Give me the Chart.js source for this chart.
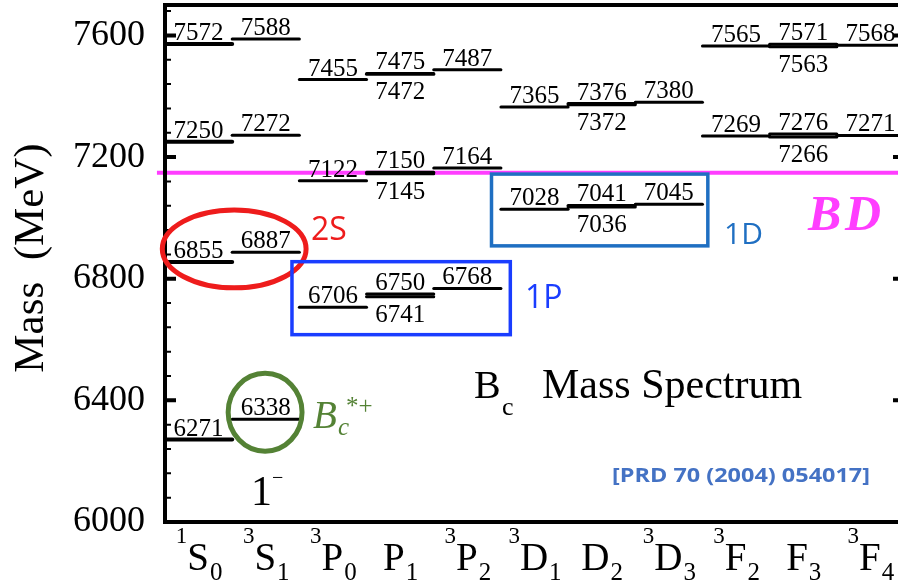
<!DOCTYPE html>
<html>
<head>
<meta charset="utf-8">
<script src="https://cdn.jsdelivr.net/npm/chart.js@4.4.1/dist/chart.umd.min.js"></script>
<style>
  html, body { margin: 0; padding: 0; background: #fff; overflow: hidden; }
  canvas { display: block; }
</style>
</head>
<body>
<canvas id="spectrum" width="910" height="583"></canvas>
<script>
// states along the x axis: superscript, letter, subscript
const catSup    = ['1', '3', '3', '',  '3', '3', '',  '3', '3', '',  '3'];
const catLetter = ['S', 'S', 'P', 'P', 'P', 'D', 'D', 'D', 'F', 'F', 'F'];
const catSub    = ['0', '1', '0', '1', '2', '1', '2', '3', '2', '3', '4'];

// masses (MeV) with the label written above the level
const massAbove = [
  [6271, 6855, 7250, 7572],
  [6338, 6887, 7272, 7588],
  [6706, 7122, 7455],
  [6750, 7150, 7475],
  [6768, 7164, 7487],
  [7028, 7365],
  [7041, 7376],
  [7045, 7380],
  [7269, 7565],
  [7276, 7571],
  [7271, 7568]
];
// masses with the label written under the level (near-degenerate partners)
const massBelow = [[], [], [], [6741, 7145, 7472], [], [], [7036, 7372], [], [], [7266, 7563], []];

const bdThreshold = 7148;
const yTicks = [6000, 6400, 6800, 7200, 7600];
const yMinorStep = 80;

const SERIF = '"Liberation Serif", "Times New Roman", serif';
const SANS = '"Open Sans", "Liberation Sans", sans-serif';

const datasets = [];
massAbove.forEach((list, i) => {
  list.forEach(m => datasets.push(levelSet(i, m, false)));
  massBelow[i].forEach(m => datasets.push(levelSet(i, m, true)));
});
datasets.push({
  data: [{ x: -0.12, y: bdThreshold }, { x: 11, y: bdThreshold }],
  borderColor: '#ff3dff',
  borderWidth: 4,
  pointRadius: 0,
  clip: false
});

function levelSet(i, m, below) {
  return {
    data: [{ x: i, y: m }, { x: i + 1, y: m }],
    borderColor: '#000',
    borderWidth: i === 0 ? 4 : 3,
    borderCapStyle: 'round',
    pointRadius: 0,
    cat: i,
    mass: m,
    below: below
  };
}

function text(ctx, s, x, y, font, color, align) {
  ctx.font = font;
  ctx.fillStyle = color;
  ctx.textAlign = align || 'left';
  ctx.textBaseline = 'alphabetic';
  ctx.fillText(s, x, y);
}

const drawPlugin = {
  id: 'drawPlugin',
  afterDatasetsDraw(chart) {
    const { ctx, chartArea: a } = chart;
    const xs = chart.scales.x, ys = chart.scales.y;
    ctx.save();

    // level values
    chart.data.datasets.forEach(ds => {
      if (ds.mass === undefined) return;
      const cx = xs.getPixelForValue(ds.cat + 0.5);
      const py = ys.getPixelForValue(ds.mass);
      text(ctx, String(ds.mass), cx, ds.below ? py + 25 : py - 4, '25px ' + SERIF, '#000', 'center');
    });

    // frame
    ctx.strokeStyle = '#000';
    ctx.lineWidth = 4;
    ctx.strokeRect(a.left, a.top, a.right - a.left, a.bottom - a.top);

    // inward ticks, left and right
    for (let v = 6000; v < 7700; v += yMinorStep) {
      const y = ys.getPixelForValue(v);
      const major = yTicks.includes(v);
      const len = major ? 11 : 6;
      ctx.lineWidth = major ? 4 : 2;
      ctx.beginPath();
      ctx.moveTo(a.left, y); ctx.lineTo(a.left + len, y);
      ctx.moveTo(a.right, y); ctx.lineTo(a.right - len, y);
      ctx.stroke();
    }

    // x labels like 3P2
    catLetter.forEach((L, i) => {
      const cx = xs.getPixelForValue(i + 0.5);
      ctx.font = '23px ' + SERIF; const w1 = ctx.measureText(catSup[i]).width;
      ctx.font = '39px ' + SERIF; const w2 = ctx.measureText(L).width;
      ctx.font = '25px ' + SERIF; const w3 = ctx.measureText(catSub[i]).width;
      let x0 = cx - (w1 + w2 + w3) / 2;
      text(ctx, catSup[i], x0, 543, '23px ' + SERIF, '#000');
      text(ctx, L, x0 + w1, 570, '39px ' + SERIF, '#000');
      text(ctx, catSub[i], x0 + w1 + w2 + 1, 580, '25px ' + SERIF, '#000');
    });

    // y title
    ctx.save();
    ctx.translate(43, 258);
    ctx.rotate(-Math.PI / 2);
    text(ctx, 'Mass  (MeV)', 0, 0, '43px ' + SERIF, '#000', 'center');
    ctx.restore();

    // annotation shapes, placed on the scales
    const px = v => xs.getPixelForValue(v);
    const py = v => ys.getPixelForValue(v);
    function ellipse(cx, cy, rx, ry, color, lw) {
      ctx.beginPath();
      ctx.ellipse(px(cx), py(cy), px(cx + rx) - px(cx), py(cy) - py(cy + ry), 0, 0, Math.PI * 2);
      ctx.lineWidth = lw; ctx.strokeStyle = color; ctx.stroke();
    }
    function box(x1, x2, y1, y2, color, lw) {
      ctx.lineWidth = lw; ctx.strokeStyle = color;
      ctx.strokeRect(px(x1), py(y2), px(x2) - px(x1), py(y1) - py(y2));
    }
    ellipse(1.03, 6898, 1.07, 128, '#ee1c1c', 5);
    ellipse(1.49, 6361, 0.55, 128, '#548235', 5);
    box(1.89, 5.14, 6616, 6856, '#1a3dff', 3.5);
    box(4.86, 8.08, 6908, 7144, '#1f6fc2', 3.5);

    // annotation texts
    text(ctx, '2S', 311, 240, '32px ' + SANS, '#ee1c1c');
    text(ctx, '1P', 525, 308, '32px ' + SANS, '#1a3dff');
    text(ctx, '1D', 724, 244, '30px ' + SANS, '#1f6fc2');
    text(ctx, 'B', 808, 230, 'italic bold 50px ' + SERIF, '#ff3dff');
    text(ctx, 'D', 845, 230, 'italic bold 50px ' + SERIF, '#ff3dff');

    text(ctx, 'B', 313, 428, 'italic 39px ' + SERIF, '#548235');
    text(ctx, 'c', 338, 435, 'italic 25px ' + SERIF, '#548235');
    text(ctx, '*+', 346, 414, '25px ' + SERIF, '#548235');

    text(ctx, '1', 251, 505, '42px ' + SERIF, '#000');
    text(ctx, '\u2212', 272, 484, '20px ' + SERIF, '#000');

    text(ctx, 'B', 474, 398, '40px ' + SERIF, '#000');
    text(ctx, 'c', 502, 415, '26px ' + SERIF, '#000');
    text(ctx, 'Mass Spectrum', 542, 398, '42px ' + SERIF, '#000');

    ctx.save();
    ctx.font = 'bold 20px ' + SANS;
    const ref = '[PRD 70 (2004) 054017]';
    const sx = 258 / ctx.measureText(ref).width;
    ctx.translate(612, 482);
    ctx.scale(sx, 1);
    text(ctx, ref, 0, 0, 'bold 20px ' + SANS, '#4472c4');
    ctx.restore();

    ctx.restore();
  }
};

new Chart(document.getElementById('spectrum'), {
  type: 'line',
  data: { datasets: datasets },
  options: {
    responsive: false,
    animation: false,
    devicePixelRatio: 1,
    layout: { padding: { top: 5, right: 6, left: 0, bottom: 0 } },
    plugins: { legend: { display: false }, tooltip: { enabled: false } },
    scales: {
      x: {
        type: 'linear',
        min: 0,
        max: 11,
        grid: { display: false, drawTicks: false },
        border: { display: false },
        ticks: { display: false },
        afterFit: s => { s.height = 61; s.paddingLeft = 0; s.paddingRight = 0; }
      },
      y: {
        min: 6000,
        max: 7700,
        grid: { display: false, drawTicks: false },
        border: { display: false },
        afterBuildTicks: s => { s.ticks = yTicks.map(v => ({ value: v })); },
        ticks: {
          padding: 20,
          color: '#000',
          font: { family: 'Liberation Serif', size: 36 },
          callback: v => String(v)
        },
        afterFit: s => { s.width = 165; s.paddingTop = 0; s.paddingBottom = 0; }
      }
    }
  },
  plugins: [drawPlugin]
});
</script>
</body>
</html>
